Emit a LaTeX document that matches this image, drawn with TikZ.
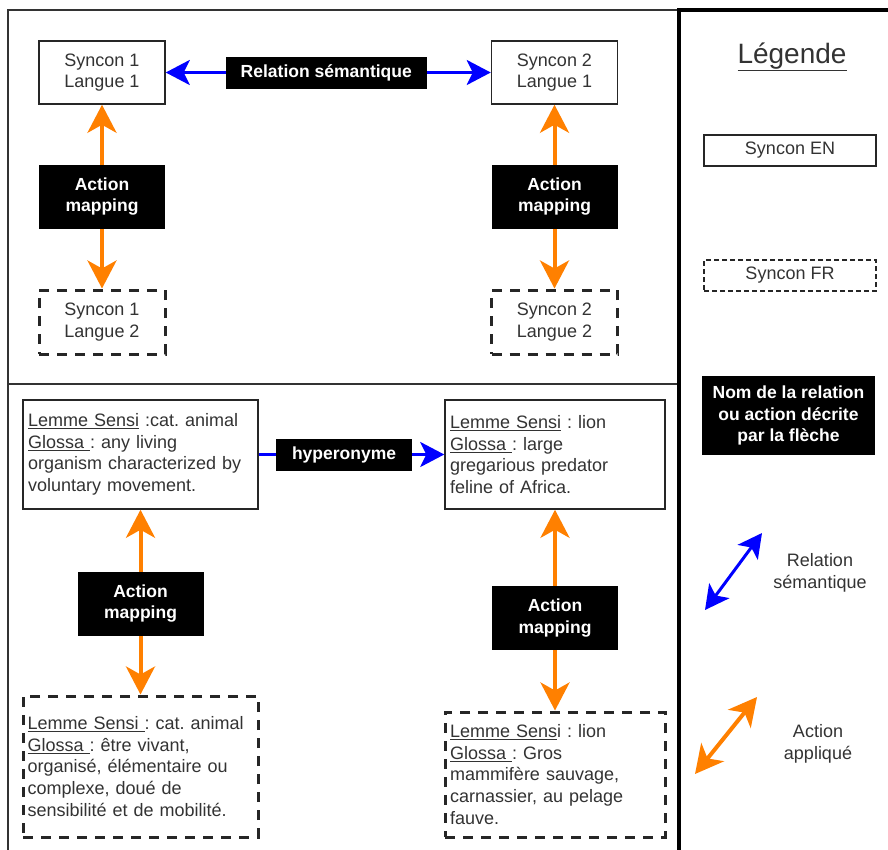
\documentclass[tikz,border=0pt]{standalone}
\usepackage{fontspec}
\setmainfont{Liberation Sans}
\usetikzlibrary{arrows.meta}
\definecolor{orangeC}{HTML}{FF8000}
\definecolor{blueC}{HTML}{0000FF}
\definecolor{txt}{HTML}{333333}
\frenchspacing
\begin{document}
\begin{tikzpicture}[x=1pt,y=-1pt,
  base/.style={font=\fontsize{18}{21.6}\selectfont\frenchspacing, text=txt, inner sep=0pt, align=center},
  box/.style={base, draw=black!85, line width=1.5pt, fill=white},
  fbox/.style={box, line width=3pt, draw=black!85, dash pattern=on 10pt off 8pt},
  lbox/.style={base, fill=black, text=white, font=\fontsize{17.5}{21.6}\selectfont\bfseries},
  tbox/.style={box, align=left, inner xsep=5pt},
  tfbox/.style={fbox, align=left, inner xsep=5pt},
  oarr/.style={draw=orangeC, line width=4pt, {Stealth[length=28pt,width=29pt,inset=8pt]}-{Stealth[length=28pt,width=29pt,inset=8pt]}},
  barr/.style={draw=blueC, line width=3pt, {Stealth[length=24pt,width=25pt,inset=6pt]}-{Stealth[length=24pt,width=25pt,inset=6pt]}},
  barrone/.style={draw=blueC, line width=3pt, -{Stealth[length=24pt,width=25pt,inset=6pt]}},
  panel/.style={draw=black!80, line width=1.5pt}
]
\useasboundingbox (0,0) rectangle (888,849);
\fill[white] (0,0) rectangle (888,849);

% panels
\draw[panel] (8,10) rectangle (679,384);
\draw[panel] (8,384) rectangle (679,870);
\draw[line width=3.5pt, black] (679,10) rectangle (910,870);

% top panel nodes
\node[box, minimum width=126pt, minimum height=63pt] (s11) at (102,72.5) {Syncon 1\\Langue 1};
\node[box, minimum width=126pt, minimum height=63pt] (s21) at (554.5,72.5) {Syncon 2\\Langue 1};
\node[fbox, minimum width=126pt, minimum height=64pt] (s12) at (102,322) {Syncon 1\\Langue 2};
\node[fbox, minimum width=126pt, minimum height=64pt] (s22) at (554.5,322) {Syncon 2\\Langue 2};

\draw[barr] (s11) -- (s21) node[lbox, pos=0.494, minimum width=201pt, minimum height=32pt] (rel) {Relation sémantique};
\draw[oarr] (s11) -- (s12) node[lbox, midway, minimum width=126pt, minimum height=64pt] (am1) {Action\\mapping};
\draw[oarr] (s21) -- (s22) node[lbox, midway, minimum width=126pt, minimum height=64pt] (am2) {Action\\mapping};

% bottom panel nodes
\node[tbox, text width=225pt, minimum height=109pt] (a1) at (140.5,454.5)
  {\mbox{\underline{Lemme Sensi} :cat. animal}\\\mbox{\underline{Glossa\ }: any living}\\\mbox{organism characterized by}\\\mbox{voluntary movement.}};
\node[tbox, text width=210pt, minimum height=109pt] (l1) at (555,454.5)
  {\mbox{\underline{Lemme Sensi} : lion}\\\mbox{\underline{Glossa\ }: large}\\\mbox{gregarious predator}\\\mbox{feline of Africa.}};
\node[tfbox, text width=226pt, inner xsep=4.5pt, minimum height=141pt] (f1) at (140.5,766.5)
  {\mbox{\underline{Lemme Sensi\ }: cat. animal}\\\mbox{\underline{Glossa\ }: être vivant,}\\\mbox{organisé, élémentaire ou}\\\mbox{complexe, doué de}\\\mbox{sensibilité et de mobilité.}};
\node[tfbox, text width=210pt, minimum height=125pt] (f2) at (555,774.5)
  {\mbox{\underline{Lemme Sens}i : lion}\\\mbox{\underline{Glossa\ }: Gros}\\\mbox{mammifère sauvage,}\\\mbox{carnassier, au pelage}\\\mbox{fauve.}};

\draw[barrone] (a1) -- (l1) node[lbox, pos=0.46, minimum width=136pt, minimum height=32pt] (hyp) {hyperonyme};
\draw[oarr] (a1) -- (f1) node[lbox, pos=0.508, minimum width=126pt, minimum height=64pt] (am3) {Action\\mapping};
\draw[oarr] (l1) -- (f2) node[lbox, pos=0.54, minimum width=126pt, minimum height=64pt] (am4) {Action\\mapping};

% legend
\node[base, font=\fontsize{28}{34}\selectfont] (leg) at (792,57) {\underline{Légende}};
\node[box, minimum width=172pt, minimum height=31pt] (en) at (790,150.5) {Syncon EN};
\node[box, line width=1.2pt, dash pattern=on 5pt off 3pt, minimum width=172pt, minimum height=31pt] (fr) at (790,275.5) {Syncon FR};
\node[lbox, minimum width=173pt, minimum height=79pt] (nom) at (788.5,415.5) {Nom de la relation\\ou action décrite\\par la flèche};
\coordinate (b1) at (705,610);
\coordinate (b2) at (762,533);
\draw[barr] (b1) -- (b2);
\node[base] (reltxt) at (820,573) {Relation\\sémantique};
\coordinate (o1) at (695,774);
\coordinate (o2) at (757,697);
\draw[oarr] (o1) -- (o2);
\node[base] (acttxt) at (818,744) {Action\\appliqué};
\end{tikzpicture}
\end{document}
